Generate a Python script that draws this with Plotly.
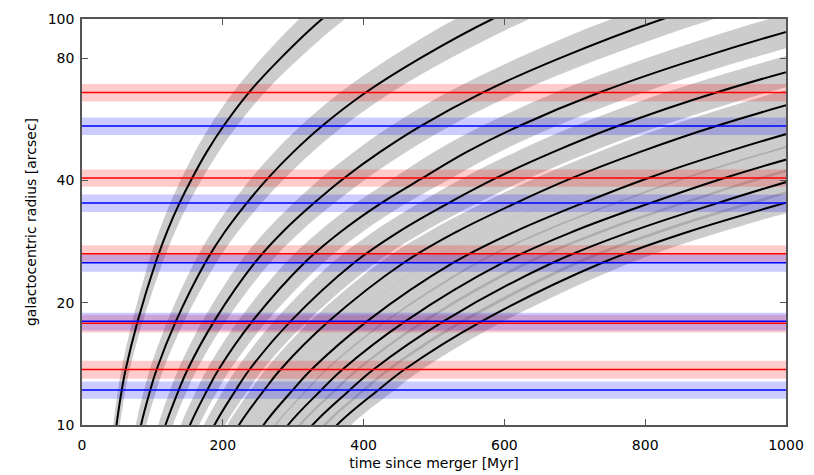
import plotly.graph_objects as go

# ---------------- data ----------------
# horizontal features (radius in arcsec, +/- half width)
red_r = [65.9, 40.6, 26.4, 17.8, 13.7]
red_err = [3.3, 2.0, 1.3, 0.9, 0.7]
blue_r = [54.5, 35.2, 25.1, 18.0, 12.2]
blue_err = [2.7, 1.75, 1.25, 0.9, 0.6]

# radii at which the shell curves were read
shell_radius = [8, 10, 12.2, 13.7, 18, 25.1, 30, 35.2, 40.6, 47, 54.5, 65.9, 80, 100, 125]
# time (Myr) at which each shell reaches those radii
shell1_t = [42, 49, 56.5, 62, 79, 104.5, 121, 138.5, 156.5, 177, 201, 237, 282, 341, 415]
shell2_t = [72.5, 83.8, 97, 106, 133.3, 175, 203.5, 234, 264.5, 300, 341, 403, 480, 583, 713]
shell3_t = [103, 118.6, 137.5, 150, 187.6, 245.5, 286, 329.5, 372.5, 423, 481, 569, 678, 825, 1011]
shell4_t = [133.5, 153.4, 178, 194, 241.9, 316, 368.5, 425, 484, 546, 621, 735, 876, 1067, 1309]
shell5_t = [164, 188.2, 218.5, 238, 296.2, 386.5, 451, 520.5, 588.5, 669, 761, 901, 1074, 1309, 1607]
shell6_t = [194.5, 223, 259, 282, 350.5, 457, 533.5, 616, 696.5, 792, 901, 1067, 1272, 1551, 1905]
shell7_t = [225, 257.8, 299.5, 326, 404.8, 527.5, 616, 711.5, 804.5, 915, 1041, 1233, 1470, 1793, 2203]
shell8_t = [255.5, 292.6, 340, 370, 459.1, 598, 698.5, 807, 912.5, 1038, 1181, 1399, 1668, 2035, 2501]
shell9_t = [286, 327.4, 380.5, 414, 513.4, 668.5, 781, 902.5, 1020.5, 1161, 1321, 1565, 1866, 2277, 2799]
shell10_t = [316.5, 362.2, 421, 458, 567.7, 739, 863.5, 998, 1128.5, 1284, 1461, 1731, 2064, 2519, 3097]
# fractional timing uncertainty of each shell (grey band)
shell_frac = [0.095, 0.09, 0.088, 0.085, 0.08, 0.075, 0.07, 0.065, 0.06, 0.055]

x_ticks = [0, 200, 400, 600, 800, 1000]
y_ticks = [10, 20, 40, 80, 100]

shells = [shell1_t, shell2_t, shell3_t, shell4_t, shell5_t,
          shell6_t, shell7_t, shell8_t, shell9_t, shell10_t]

fig = go.Figure()

# grey uncertainty bands
for ts, f in zip(shells, shell_frac):
    early = [t * (1 - f) for t in ts]
    late = [t * (1 + f) for t in ts]
    fig.add_trace(go.Scatter(
        x=early + late[::-1], y=shell_radius + shell_radius[::-1],
        mode="lines", line=dict(width=0, shape="spline"),
        fill="toself", fillcolor="rgba(128,128,128,0.4)",
        hoverinfo="skip", showlegend=False))

# red / blue horizontal bands
for vals, errs, col in [(red_r, red_err, "rgba(255,0,0,0.2)"),
                        (blue_r, blue_err, "rgba(0,0,255,0.2)")]:
    for v, e in zip(vals, errs):
        fig.add_trace(go.Scatter(
            x=[0, 1000, 1000, 0], y=[v - e, v - e, v + e, v + e],
            mode="lines", line=dict(width=0), fill="toself",
            fillcolor=col, hoverinfo="skip", showlegend=False))

# black shell curves
for ts in shells:
    fig.add_trace(go.Scatter(
        x=ts, y=shell_radius, mode="lines",
        line=dict(color="black", width=2, shape="spline"),
        showlegend=False))

# red / blue lines
for vals, col in [(red_r, "#ff0000"), (blue_r, "#0000ff")]:
    for v in vals:
        fig.add_trace(go.Scatter(
            x=[0, 1000], y=[v, v], mode="lines",
            line=dict(color=col, width=1.5), showlegend=False))

font14 = dict(family="DejaVu Sans", size=14, color="black")
axis_common = dict(showgrid=False, zeroline=False, showline=True, mirror="ticks",
                   linecolor="#555555", linewidth=1.5, ticks="inside", ticklen=6,
                   tickcolor="#555555", tickwidth=1, tickfont=font14)

fig.update_xaxes(range=[0, 1000], tickvals=x_ticks, ticklabelstandoff=6,
                 title=dict(text="time since merger [Myr]", font=font14, standoff=7),
                 **axis_common)
fig.update_yaxes(type="log", range=[1, 2], tickvals=y_ticks,
                 ticktext=[str(v) for v in y_ticks], ticklabelstandoff=3,
                 title=dict(text="galactocentric radius [arcsec]", font=font14, standoff=8),
                 **axis_common)

fig.update_layout(width=814, height=475,
                  margin=dict(l=82, r=28, t=19, b=50, autoexpand=False),
                  plot_bgcolor="white", paper_bgcolor="white",
                  showlegend=False)

fig.write_html("out.html",
               config={"displayModeBar": False},
               post_script="document.body.style.margin='0';"
                           "document.body.style.overflow='hidden';")
